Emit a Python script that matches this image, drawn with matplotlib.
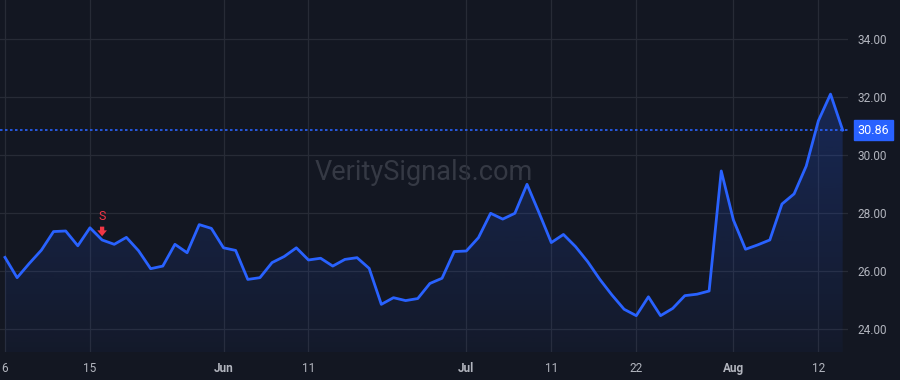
import matplotlib

matplotlib.use("Agg")
import matplotlib.pyplot as plt
import numpy as np
from matplotlib.patches import Polygon

plt.rcParams["font.family"] = ["Roboto", "DejaVu Sans"]

# Daily closes, one per trading session (May 6 -> Aug 14)
CLOSES = [
    26.47, 25.77, 26.26, 26.72, 27.36, 27.38, 26.87, 27.49, 27.07, 26.92,
    27.16, 26.70, 26.08, 26.17, 26.92, 26.63, 27.60, 27.47, 26.80, 26.71,
    25.71, 25.77, 26.29, 26.50, 26.80, 26.38, 26.44, 26.17, 26.40, 26.46,
    26.09, 24.85, 25.08, 24.98, 25.05, 25.57, 25.75, 26.67, 26.69, 27.15,
    27.99, 27.79, 27.99, 28.99, 28.00, 26.98, 27.26, 26.84, 26.32, 25.71,
    25.17, 24.68, 24.46, 25.11, 24.46, 24.71, 25.15, 25.20, 25.31, 29.45,
    27.76, 26.75, 26.90, 27.07, 28.31, 28.66, 29.62, 31.18, 32.10, 30.86,
]
TICK_SESSIONS = [0, 7, 18, 25, 38, 45, 52, 60, 67]
TICK_LABELS = ["6", "15", "Jun", "11", "Jul", "11", "22", "Aug", "12"]
MONTH_LABELS = {"Jun", "Jul", "Aug"}
PRICE_TICKS = [24, 26, 28, 30, 32, 34]
SELL_SESSION = 8
LAST_PRICE = 30.86

BG = "#131722"
GRID = "#272b36"
LINE = "#2962ff"
TEXT = "#b2b5be"
RED = "#f23645"

fig = plt.figure(figsize=(9, 3.8), dpi=100, facecolor=BG)
ax = fig.add_axes([0, 28 / 380, 848 / 900, 352 / 380], facecolor=BG)

x = np.arange(len(CLOSES))
y = np.array(CLOSES)
ymin, ymax = 23.207, 35.345
ax.set_xlim(-0.41, 69.44)
ax.set_ylim(ymin, ymax)

# gradient area under the line, clipped to the price polygon
grad = np.zeros((256, 1, 4))
grad[:, 0, :3] = matplotlib.colors.to_rgb(LINE)
grad[:, 0, 3] = np.linspace(0.04, 0.30, 256)
img = ax.imshow(grad, aspect="auto", origin="lower",
                extent=[x[0], x[-1], ymin, ymax], zorder=1)
poly = Polygon(np.column_stack([np.r_[x, x[-1], x[0]], np.r_[y, ymin, ymin]]),
               closed=True, facecolor="none", edgecolor="none")
ax.add_patch(poly)
img.set_clip_path(poly)

ax.plot(x, y, color=LINE, lw=2, zorder=3, solid_joinstyle="round")

# last price line + label
ax.axhline(LAST_PRICE, color=LINE, lw=1.2, ls=(0, (1.5, 1.5)), zorder=2)
ax.annotate(f"{LAST_PRICE:.2f}", xy=(1.0, LAST_PRICE),
            xycoords=("axes fraction", "data"), xytext=(7, 0),
            textcoords="offset points", ha="left", va="center",
            fontsize=9, color="white", annotation_clip=False,
            bbox=dict(boxstyle="square,pad=0.3", fc=LINE, ec=LINE))

# sell marker: "S" above a small down arrow
sell_y = CLOSES[SELL_SESSION]
ax.annotate("S", xy=(SELL_SESSION, sell_y), xytext=(0, 17),
            textcoords="offset points", ha="center", va="center",
            fontsize=9, color=RED, zorder=5)
ax.annotate(
    "", xy=(SELL_SESSION, sell_y + 0.13), xytext=(SELL_SESSION, sell_y + 0.46),
    arrowprops=dict(arrowstyle="simple,head_width=0.5,head_length=0.3,tail_width=0.22",
                    mutation_scale=14, color=RED, lw=0, shrinkA=0, shrinkB=0),
    zorder=5,
)

# watermark
ax.text(0.5, 0.51, "VeritySignals.com", transform=ax.transAxes,
        ha="center", va="center", fontsize=19.5, color="#353944", zorder=0)

# axes styling
ax.set_xticks(TICK_SESSIONS)
ax.set_xticklabels(TICK_LABELS)
for lbl in ax.get_xticklabels():
    if lbl.get_text() in MONTH_LABELS:
        lbl.set_fontweight("bold")
ax.yaxis.tick_right()
ax.set_yticks(PRICE_TICKS)
ax.set_yticklabels([f"{v:.2f}" for v in PRICE_TICKS])
ax.tick_params(axis="both", length=0, colors=TEXT, labelsize=8.5)
ax.tick_params(axis="x", pad=7)
ax.tick_params(axis="y", pad=7)
ax.grid(True, color=GRID, lw=0.9, zorder=0)
ax.set_axisbelow(True)
for spine in ax.spines.values():
    spine.set_visible(False)

fig.savefig("out.png", dpi=100, facecolor=BG)
